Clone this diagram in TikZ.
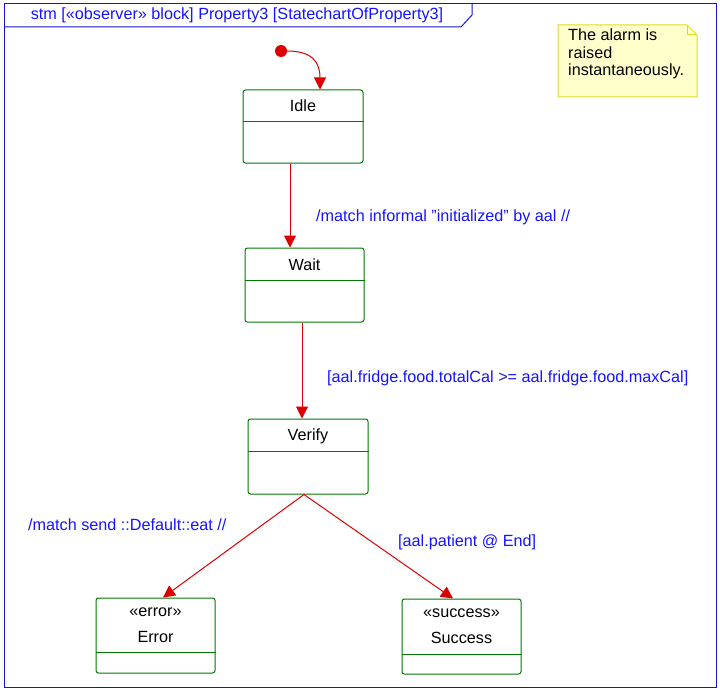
\documentclass[tikz,border=0pt]{standalone}
\usepackage{fontspec}
\setmainfont{Liberation Sans}
\usetikzlibrary{arrows.meta,calc}
\definecolor{framec}{RGB}{20,20,200}
\definecolor{stgreen}{RGB}{0,120,0}
\definecolor{trred}{RGB}{220,0,0}
\definecolor{lblue}{RGB}{20,20,255}
\definecolor{notefill}{RGB}{255,255,204}
\definecolor{noteedge}{RGB}{220,220,40}
\tikzset{
  every node/.style={font=\fontsize{16.2}{18}\selectfont},
  statebox/.style={draw=stgreen, line width=1pt, rounded corners=2.5pt, minimum width=119pt, minimum height=74pt, inner sep=0pt},
  tr/.style={draw=trred, line width=1pt, -{Triangle[length=12pt,width=12pt]}},
  lbl/.style={text=lblue, inner sep=0pt, anchor=west},
  divline/.style={draw=stgreen, line width=1pt}
}
\begin{document}
\begin{tikzpicture}[x=1pt,y=-1pt]
\useasboundingbox (0,0) rectangle (720,690);
% frame
\draw[framec, line width=1pt] (4,4) rectangle (716,687);
\draw[framec, line width=1pt] (4,27) -- (461,27) -- (472,15) -- (472,4);
\node[text=lblue] (title) at (237,15) {stm [«observer» block] Property3 [StatechartOfProperty3]};
% note
\draw[noteedge, fill=notefill, line width=1pt] (558,25) -- (687,25) -- (697,35) -- (697,97) -- (558,97) -- cycle;
\draw[noteedge, line width=1pt] (687,25) -- (687,35) -- (697,35);
\node[align=left, anchor=north west, inner sep=0pt, font=\fontsize{16.2}{17.5}\selectfont] (note) at (568,29) {The alarm is\\raised\\instantaneously.};
% initial
\node[circle, fill=trred, minimum size=12pt, inner sep=0pt] (init) at (281,51) {};
% states
\node[statebox, minimum width=120pt, minimum height=73pt] (idle) at (303,126.5) {};
\node (idlet) at (303,106) {Idle};
\draw[divline] ($(idle.north west)+(0,32)$) -- ($(idle.north east)+(0,32)$);
\node[statebox] (wait) at (304.5,285) {};
\node (waitt) at (304.5,265) {Wait};
\draw[divline] ($(wait.north west)+(0,33)$) -- ($(wait.north east)+(0,33)$);
\node[statebox, minimum width=120pt, minimum height=75pt] (verify) at (308,456.5) {};
\node (verifyt) at (308,436) {Verify};
\draw[divline] ($(verify.north west)+(0,33)$) -- ($(verify.north east)+(0,33)$);
\node[statebox, minimum height=75pt] (error) at (155.5,635.5) {};
\node (errors) at (155.5,612) {«error»};
\node (errort) at (155.5,637) {Error};
\draw[divline] ($(error.north west)+(0,55)$) -- ($(error.north east)+(0,55)$);
\node[statebox, minimum height=75pt] (success) at (461.5,636.5) {};
\node (successs) at (461.5,613) {«success»};
\node (successt) at (461.5,638) {Success};
\draw[divline] ($(success.north west)+(0,56)$) -- ($(success.north east)+(0,56)$);
% transitions
\coordinate (c0) at (320,0);
\coordinate (c1) at (290,0);
\coordinate (c2) at (302,0);
\coordinate (c3) at (304,0);
\coordinate (c4) at (163,0);
\coordinate (c5) at (453,0);
\draw[tr] (init.east) .. controls (312,51) and (320,62) .. (c0 |- idle.north);
\draw[tr] (c1 |- idle.south) -- (c1 |- wait.north);
\draw[tr] (c2 |- wait.south) -- (c2 |- verify.north);
\draw[tr] (c3 |- verify.south) -- (c4 |- error.north);
\draw[tr] (c3 |- verify.south) -- (c5 |- success.north);
% labels
\node[lbl] (l1) at (316,217) {/match informal \symbol{34}initialized\symbol{34} by aal //};
\node[lbl] (l2) at (327,378) {[aal.fridge.food.totalCal >= aal.fridge.food.maxCal]};
\node[lbl] (l3) at (28,525) {/match send ::Default::eat //};
\node[lbl] (l4) at (398,542) {[aal.patient @ End]};
\end{tikzpicture}
\end{document}
